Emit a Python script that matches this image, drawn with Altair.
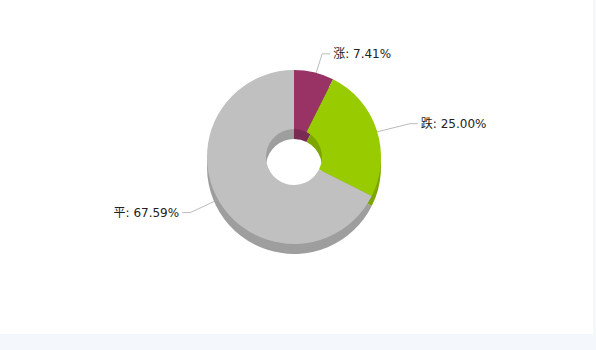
import altair as alt
import pandas as pd

categories = ["涨", "跌", "平"]
values = [7.41, 25.00, 67.59]
order_idx = [0, 1, 2]
top_colors = ["#993366", "#99CC00", "#C0C0C0"]
side_colors = ["#7B2A54", "#7DA600", "#9E9E9E"]

df = pd.DataFrame({"cat": categories, "value": values, "idx": order_idx})

CX, CY = 294, 157
R_OUT, R_IN = 87, 28
DEPTH = 10
FONT = "DejaVu Sans, Noto Sans CJK SC, sans-serif"

base = alt.Chart(df)

bg = base.mark_rect(color="white").encode(
    x=alt.value(0), x2=alt.value(593), y=alt.value(0), y2=alt.value(334)
).transform_filter("datum.idx == 0")

side = base.transform_calculate(scat="datum.cat").mark_arc(outerRadius=R_OUT, innerRadius=R_IN).encode(
    theta=alt.Theta("value:Q", stack=True),
    order=alt.Order("idx:Q"),
    color=alt.Color("scat:N", scale=alt.Scale(domain=categories, range=side_colors), legend=None),
    x=alt.value(CX), y=alt.value(CY + DEPTH),
)

top = base.mark_arc(outerRadius=R_OUT, innerRadius=R_IN).encode(
    theta=alt.Theta("value:Q", stack=True),
    order=alt.Order("idx:Q"),
    color=alt.Color("cat:N", scale=alt.Scale(domain=categories, range=top_colors), legend=None),
    x=alt.value(CX), y=alt.value(CY),
)

geo = base.transform_window(
    cum="sum(value)", sort=[alt.SortField("idx")], frame=[None, 0]
).transform_joinaggregate(total="sum(value)").transform_calculate(
    mid="2*PI*(datum.cum - datum.value/2)/datum.total"
).transform_calculate(
    sgn="sin(datum.mid) >= 0 ? 1 : -1",
    x0=f"{CX} + {R_OUT - 3}*sin(datum.mid)",
    y0=f"{CY} - {R_OUT - 3}*0.92*cos(datum.mid)",
    ex=f"{CX} + 122*sin(datum.mid)",
    ey=f"{CY} - 106*cos(datum.mid)",
    label="datum.cat + ': ' + format(datum.value, '.2f') + '%'",
).transform_calculate(
    hx="datum.ex + 8*datum.sgn",
    tx="datum.ex + 11*datum.sgn",
)

line_color = "#BBBBBB"
lead1 = geo.mark_rule(color=line_color, strokeWidth=1).encode(
    x=alt.X("x0:Q", scale=None, axis=None), y=alt.Y("y0:Q", scale=None, axis=None),
    x2="ex:Q", y2="ey:Q",
)
lead2 = geo.mark_rule(color=line_color, strokeWidth=1).encode(
    x=alt.X("ex:Q", scale=None, axis=None), y=alt.Y("ey:Q", scale=None, axis=None),
    x2="hx:Q", y2="ey:Q",
)

txt_r = geo.transform_filter("datum.sgn > 0").mark_text(
    align="left", baseline="middle", font=FONT, fontSize=12, color="#222222"
).encode(
    x=alt.X("tx:Q", scale=None, axis=None), y=alt.Y("ey:Q", scale=None, axis=None),
    text="label:N",
)
txt_l = geo.transform_filter("datum.sgn < 0").mark_text(
    align="right", baseline="middle", font=FONT, fontSize=12, color="#222222"
).encode(
    x=alt.X("tx:Q", scale=None, axis=None), y=alt.Y("ey:Q", scale=None, axis=None),
    text="label:N",
)

chart = alt.layer(bg, lead1, lead2, side, top, txt_r, txt_l).resolve_scale(
    color="independent"
).properties(
    width=596, height=350, background="#F4F8FD", padding=0,
    autosize=alt.AutoSizeParams(type="none"),
).configure_view(stroke=None)

chart.save("out.html", embed_options={"renderer": "svg", "actions": False})
